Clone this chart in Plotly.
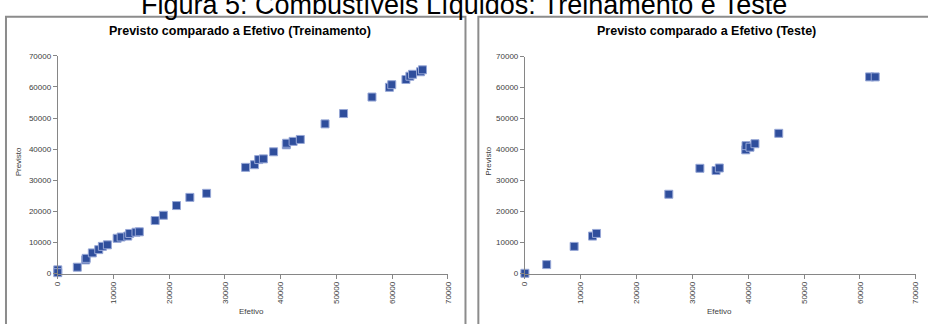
import plotly.graph_objects as go

W, H = 928, 324

# ---- data ----
train_x = [0, 0, 3500, 5000, 5100, 6200, 7350, 8000, 8900, 10650, 11370, 12560, 12900,
           14030, 14630, 17470, 18950, 21300, 23700, 26700, 33690, 35290, 36050, 36890,
           38720, 41000, 41050, 42220, 43510, 47950, 51270, 56370, 59500, 59920, 62460,
           63170, 63650, 65070, 65430]
train_y = [1200, 300, 2060, 4400, 4900, 6650, 7700, 8750, 9250, 11350, 11760, 12070, 12900,
           13300, 13430, 17060, 18750, 21870, 24500, 25800, 34150, 35000, 36650, 36870,
           39150, 41400, 41900, 42500, 43120, 48120, 51440, 56750, 59880, 60720, 62380,
           63440, 64060, 64880, 65500]

test_x = [0, 3900, 8820, 12110, 12830, 25770, 31340, 34230, 34820, 39550, 39600, 40310,
          41200, 45460, 61730, 62740]
test_y = [100, 2900, 8770, 12100, 12950, 25580, 33950, 33230, 34050, 39900, 41250, 40750,
          41880, 45230, 63420, 63420]

tick_vals = [0, 10000, 20000, 30000, 40000, 50000, 60000, 70000]
tick_text = ["0", "10000", "20000", "30000", "40000", "50000", "60000", "70000"]

fig_title = "Figura 5: Combustíveis Líquidos: Treinamento e Teste"
title_left = "Previsto comparado a Efetivo (Treinamento)"
title_right = "Previsto comparado a Efetivo (Teste)"
x_title = "Efetivo"
y_title = "Previsto"

# ---- styling ----
FONT = "Liberation Sans"
MARKER_FILL = "#2F4E9C"
MARKER_LINE = "#97A7D6"
AXIS_COL = "#868686"
TXT = "#404040"


def px_x(p):
    return p / W


def px_y(p):
    return 1 - p / H


fig = go.Figure()

marker = dict(symbol="square", size=8, color=MARKER_FILL,
              line=dict(color=MARKER_LINE, width=1))

fig.add_trace(go.Scatter(x=train_x, y=train_y, mode="markers", marker=marker,
                         xaxis="x", yaxis="y", cliponaxis=False, showlegend=False))
fig.add_trace(go.Scatter(x=test_x, y=test_y, mode="markers", marker=marker,
                         xaxis="x2", yaxis="y2", cliponaxis=False, showlegend=False))

axis_common = dict(range=[0, 70000], tickvals=tick_vals, ticktext=tick_text,
                   showgrid=False, zeroline=False, showline=True, linecolor=AXIS_COL,
                   linewidth=1, ticks="outside", ticklen=4, tickcolor=AXIS_COL,
                   tickfont=dict(family=FONT, size=8, color=TXT))

fig.update_layout(
    width=W, height=H,
    margin=dict(l=0, r=0, t=0, b=0),
    paper_bgcolor="white", plot_bgcolor="white",
    xaxis=dict(domain=[px_x(54.3), px_x(448.3)], anchor="y", tickangle=-90, **axis_common),
    yaxis=dict(domain=[px_y(277.3), px_y(53.3)], anchor="x", **axis_common),
    xaxis2=dict(domain=[px_x(526), px_x(920.7)], anchor="y2", tickangle=-90, **axis_common),
    yaxis2=dict(domain=[px_y(277.3), px_y(54)], anchor="x2", **axis_common),
)

# panel borders
for x0, x1 in [(2, 466), (479, 940)]:
    fig.add_shape(type="rect", xref="paper", yref="paper",
                  x0=px_x(x0), x1=px_x(x1), y0=px_y(340), y1=px_y(13),
                  line=dict(color="#8C8C8C", width=2), fillcolor="rgba(0,0,0,0)")

ann = []
ann.append(dict(text=fig_title, x=px_x(464), y=px_y(1), xref="paper", yref="paper",
                xanchor="center", yanchor="middle", showarrow=False,
                font=dict(family=FONT, size=27, color="#000000")))
ann.append(dict(text="<b>" + title_left + "</b>", x=px_x(238), y=px_y(28), xref="paper",
                yref="paper", xanchor="center", yanchor="middle", showarrow=False,
                font=dict(family=FONT, size=12.5, color="#000000")))
ann.append(dict(text="<b>" + title_right + "</b>", x=px_x(709), y=px_y(28), xref="paper",
                yref="paper", xanchor="center", yanchor="middle", showarrow=False,
                font=dict(family=FONT, size=12.5, color="#000000")))
for cx in (250, 723):
    ann.append(dict(text=x_title, x=px_x(cx), y=px_y(316), xref="paper", yref="paper",
                    xanchor="center", yanchor="middle", showarrow=False,
                    font=dict(family=FONT, size=8, color=TXT)))
for cx in (15, 489):
    ann.append(dict(text=y_title, x=px_x(cx), y=px_y(162), xref="paper", yref="paper",
                    xanchor="center", yanchor="middle", showarrow=False, textangle=-90,
                    font=dict(family=FONT, size=8, color=TXT)))
fig.update_layout(annotations=ann)

fig.write_html(
    "out.html",
    config={"displayModeBar": False},
    post_script="document.body.style.margin='0';document.body.style.overflow='hidden';",
)
